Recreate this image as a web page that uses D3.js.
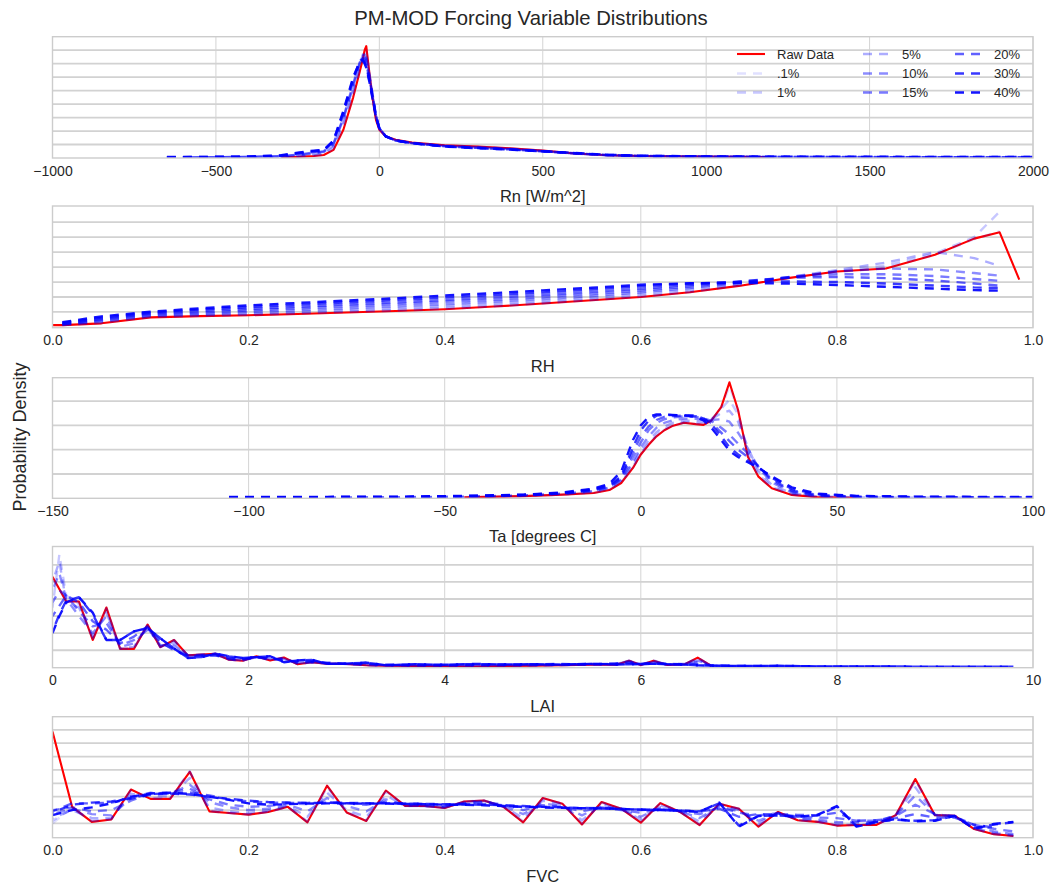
<!DOCTYPE html>
<html>
<head>
<meta charset="utf-8">
<script src="https://cdn.jsdelivr.net/npm/d3@7"></script>
<style>
  body { margin: 0; background: #ffffff; }
  svg { display: block; }
  text { font-family: "Liberation Sans", Arial, sans-serif; fill: #262626; }
</style>
</head>
<body>
<svg id="chart" width="1052" height="890"></svg>
<script>
// ---- Series legend ----
const seriesNames = ["Raw Data", ".1%", "1%", "5%", "10%", "15%", "20%", "30%", "40%"];

// ---- Rn [W/m^2] ----
const rnX = [-650, -580, -500, -400, -300, -250, -200, -170, -140, -110, -80, -60, -50, -45, -40, -30, -20, -10, 0, 20, 50, 100, 200, 300, 400, 500, 600, 700, 800, 1000, 1200, 1500, 1800, 2000];
const rnRaw = [null, null, null, null, 0.00005, 0.00008, 0.00015, 0.00022, 0.0006, 0.0021, 0.0045, 0.0064, 0.0074, 0.008, 0.0083, 0.0062, 0.0043, 0.0028, 0.0021, 0.0016, 0.00135, 0.00115, 0.00095, 0.00085, 0.00072, 0.00055, 0.00033, 0.0002, 0.00015, 0.0001, 0.00007, null, null, null];
const rnP01 = [null, null, null, null, 0.00005, 0.00008, 0.00016, 0.00024, 0.00065, 0.0022, 0.0046, 0.0065, 0.0074, 0.0079, 0.0081, 0.0062, 0.0044, 0.0029, 0.0021, 0.0016, 0.00134, 0.00114, 0.00094, 0.00084, 0.00071, 0.00054, 0.00033, 0.0002, 0.00015, 0.0001, 0.00007, null, null, null];
const rnP1 = [null, null, null, 0.00004, 0.00007, 0.0001, 0.0002, 0.0003, 0.0008, 0.0025, 0.0049, 0.0067, 0.0075, 0.0078, 0.0078, 0.0063, 0.0045, 0.003, 0.0022, 0.0016, 0.00132, 0.00112, 0.00092, 0.00082, 0.0007, 0.00053, 0.00033, 0.0002, 0.00014, 0.0001, 0.00007, 0.00005, null, null];
const rnP5 = [null, null, 0.00004, 0.00006, 0.0001, 0.00015, 0.0003, 0.0004, 0.0009, 0.0027, 0.0051, 0.0069, 0.0077, 0.0078, 0.0076, 0.0062, 0.0046, 0.0031, 0.0022, 0.0016, 0.0013, 0.0011, 0.0009, 0.0008, 0.00068, 0.00052, 0.00033, 0.0002, 0.00014, 0.0001, 0.00007, 0.00005, 0.00004, null];
const rnP10 = [null, 0.00004, 0.00005, 0.00007, 0.00012, 0.0002, 0.00035, 0.00045, 0.001, 0.0029, 0.0053, 0.007, 0.0076, 0.0077, 0.0074, 0.006, 0.0046, 0.0031, 0.0022, 0.0016, 0.0013, 0.0011, 0.0009, 0.00078, 0.00066, 0.0005, 0.00033, 0.0002, 0.00014, 0.0001, 0.00008, 0.00006, 0.00005, 0.00005];
const rnP15 = [null, 0.00005, 0.00006, 0.00008, 0.00014, 0.00025, 0.0004, 0.0005, 0.0011, 0.003, 0.0055, 0.0071, 0.0075, 0.0075, 0.0072, 0.0059, 0.0046, 0.0031, 0.0022, 0.0016, 0.0013, 0.0011, 0.00088, 0.00076, 0.00065, 0.0005, 0.00034, 0.00021, 0.00014, 0.0001, 0.00008, 0.00006, 0.00005, 0.00005];
const rnP20 = [0.00005, 0.00006, 0.00007, 0.00009, 0.00016, 0.0003, 0.00045, 0.00055, 0.0012, 0.0032, 0.0057, 0.0072, 0.0074, 0.0073, 0.007, 0.0058, 0.0045, 0.0031, 0.0022, 0.0016, 0.0013, 0.0011, 0.00087, 0.00075, 0.00064, 0.0005, 0.00035, 0.00022, 0.00015, 0.0001, 0.00008, 0.00007, 0.00006, 0.00006];
const rnP30 = [0.00006, 0.00007, 0.00008, 0.0001, 0.00018, 0.00035, 0.0005, 0.0006, 0.0013, 0.0034, 0.0059, 0.0072, 0.0073, 0.0071, 0.0068, 0.0057, 0.0044, 0.0031, 0.0022, 0.0016, 0.0013, 0.0011, 0.00086, 0.00074, 0.00063, 0.0005, 0.00036, 0.00023, 0.00016, 0.00011, 0.00009, 0.00008, 0.00007, 0.00007];
const rnP40 = [0.00007, 0.00008, 0.00009, 0.00011, 0.0002, 0.0004, 0.00055, 0.0006, 0.0013, 0.0035, 0.006, 0.0071, 0.0072, 0.007, 0.0067, 0.0056, 0.0043, 0.003, 0.0022, 0.0016, 0.0013, 0.0011, 0.00085, 0.00073, 0.00062, 0.0005, 0.00037, 0.00024, 0.00017, 0.00012, 0.0001, 0.00009, 0.00008, 0.00008];
const rnTicks = [-1000, -500, 0, 500, 1000, 1500, 2000];
const rnGrid = [0.001, 0.002, 0.003, 0.004, 0.005, 0.006, 0.007, 0.008];

// ---- RH ----
const rhX = [0.0, 0.01, 0.05, 0.1, 0.15, 0.2, 0.25, 0.3, 0.35, 0.4, 0.45, 0.5, 0.55, 0.6, 0.65, 0.7, 0.75, 0.8, 0.85, 0.9, 0.94, 0.966, 0.986];
const rhRaw = [0.06, 0.06, 0.12, 0.32, 0.36, 0.39, 0.43, 0.48, 0.53, 0.59, 0.68, 0.78, 0.89, 1.0, 1.16, 1.37, 1.63, 1.85, 1.95, 2.41, 2.95, 3.16, 1.58];
const rhP01 = [null, 0.05, 0.13, 0.33, 0.37, 0.40, 0.44, 0.49, 0.54, 0.60, 0.68, 0.78, 0.89, 1.01, 1.16, 1.38, 1.63, 1.84, 1.97, 2.40, 2.93, 3.2, null];
const rhP1 = [null, 0.06, 0.15, 0.34, 0.38, 0.41, 0.46, 0.51, 0.56, 0.63, 0.70, 0.80, 0.91, 1.03, 1.18, 1.40, 1.64, 1.86, 2.05, 2.45, 3.0, 3.85, null];
const rhP5 = [null, 0.07, 0.18, 0.36, 0.40, 0.45, 0.50, 0.56, 0.62, 0.69, 0.77, 0.86, 0.97, 1.10, 1.25, 1.44, 1.66, 1.90, 2.15, 2.5, 2.3, 2.04, null];
const rhP10 = [null, 0.08, 0.21, 0.39, 0.44, 0.50, 0.56, 0.62, 0.69, 0.76, 0.84, 0.93, 1.03, 1.16, 1.30, 1.47, 1.66, 1.85, 1.95, 1.92, 1.80, 1.71, null];
const rhP15 = [null, 0.09, 0.24, 0.42, 0.48, 0.55, 0.62, 0.69, 0.76, 0.84, 0.91, 1.00, 1.10, 1.22, 1.35, 1.50, 1.66, 1.76, 1.76, 1.70, 1.60, 1.54, null];
const rhP20 = [null, 0.11, 0.27, 0.45, 0.53, 0.60, 0.67, 0.75, 0.82, 0.90, 0.98, 1.07, 1.17, 1.28, 1.40, 1.52, 1.64, 1.67, 1.63, 1.55, 1.45, 1.38, null];
const rhP30 = [null, 0.13, 0.31, 0.48, 0.58, 0.66, 0.74, 0.82, 0.90, 0.98, 1.06, 1.15, 1.25, 1.36, 1.45, 1.50, 1.52, 1.50, 1.45, 1.38, 1.32, 1.30, null];
const rhP40 = [null, 0.16, 0.35, 0.51, 0.62, 0.72, 0.80, 0.88, 0.96, 1.05, 1.13, 1.22, 1.31, 1.41, 1.46, 1.47, 1.45, 1.40, 1.34, 1.28, 1.23, 1.21, null];
const rhTicks = [0.0, 0.2, 0.4, 0.6, 0.8, 1.0];
const rhGrid = [0.5, 1.0, 1.5, 2.0, 2.5, 3.0, 3.5];

// ---- Ta [degrees C] ----
const taX = [-105, -80, -60, -45, -30, -20, -12, -8, -5, -2, 0, 2, 4, 6, 8, 11, 14, 16, 18, 20.5, 22.6, 24.8, 27.3, 30, 33.4, 38.5, 45, 55, 70, 85, 100];
const taRaw = [null, null, null, 0.0004, 0.0009, 0.0015, 0.0022, 0.0034, 0.0063, 0.0125, 0.018, 0.022, 0.0255, 0.028, 0.0297, 0.0311, 0.0305, 0.0302, 0.032, 0.0375, 0.0477, 0.0363, 0.0171, 0.0089, 0.0041, 0.0014, 0.0005, 0.0002, null, null, null];
const taP01 = [null, null, null, 0.0005, 0.0009, 0.0015, 0.0023, 0.0036, 0.0066, 0.0128, 0.0182, 0.0222, 0.0257, 0.0282, 0.0298, 0.0311, 0.0306, 0.0303, 0.0322, 0.0372, 0.046, 0.0362, 0.0175, 0.0092, 0.0043, 0.0015, 0.0006, 0.0002, null, null, null];
const taP1 = [null, null, 0.0003, 0.0005, 0.001, 0.0016, 0.0025, 0.0038, 0.0068, 0.013, 0.0185, 0.0225, 0.026, 0.0285, 0.03, 0.0312, 0.031, 0.0308, 0.0325, 0.0368, 0.0405, 0.0345, 0.019, 0.0098, 0.0047, 0.0017, 0.0007, 0.0003, 0.0002, null, null];
const taP5 = [null, 0.0002, 0.0004, 0.0006, 0.0011, 0.0018, 0.0028, 0.0042, 0.0072, 0.014, 0.0195, 0.0238, 0.0272, 0.0295, 0.031, 0.032, 0.0318, 0.0316, 0.0325, 0.035, 0.036, 0.0315, 0.021, 0.0112, 0.0055, 0.002, 0.0008, 0.0004, 0.0002, 0.0002, null];
const taP10 = [null, 0.0003, 0.0005, 0.0007, 0.0012, 0.0019, 0.003, 0.0045, 0.0076, 0.015, 0.021, 0.0255, 0.029, 0.031, 0.032, 0.0328, 0.0327, 0.0325, 0.0322, 0.0325, 0.0315, 0.027, 0.0205, 0.0125, 0.0065, 0.0024, 0.001, 0.0005, 0.0003, 0.0002, 0.0002];
const taP15 = [0.0003, 0.0004, 0.0005, 0.0008, 0.0013, 0.002, 0.0033, 0.0048, 0.008, 0.017, 0.023, 0.028, 0.031, 0.0325, 0.0333, 0.0337, 0.0335, 0.033, 0.0318, 0.029, 0.0262, 0.0225, 0.0185, 0.013, 0.0072, 0.0028, 0.0012, 0.0006, 0.0004, 0.0003, 0.0003];
const taP20 = [0.0004, 0.0004, 0.0005, 0.0008, 0.0013, 0.0021, 0.0035, 0.005, 0.0085, 0.019, 0.0255, 0.0295, 0.0322, 0.0335, 0.0338, 0.034, 0.0338, 0.0328, 0.031, 0.027, 0.0235, 0.02, 0.017, 0.0133, 0.0078, 0.0032, 0.0014, 0.0007, 0.0005, 0.0004, 0.0004];
const taP30 = [0.0005, 0.0005, 0.0006, 0.0009, 0.0014, 0.0022, 0.0037, 0.0055, 0.009, 0.021, 0.028, 0.032, 0.034, 0.0343, 0.0342, 0.0342, 0.034, 0.0328, 0.0305, 0.0255, 0.021, 0.018, 0.0155, 0.0128, 0.0085, 0.0038, 0.0017, 0.0009, 0.0006, 0.0005, 0.0005];
const taP40 = [0.0006, 0.0006, 0.0007, 0.001, 0.0015, 0.0024, 0.004, 0.006, 0.011, 0.024, 0.030, 0.0335, 0.0345, 0.0345, 0.0343, 0.034, 0.0335, 0.032, 0.029, 0.024, 0.0195, 0.017, 0.0148, 0.0125, 0.009, 0.0045, 0.0019, 0.001, 0.0007, 0.0006, 0.0006];
const taTicks = [-150, -100, -50, 0, 50, 100];
const taGrid = [0.01, 0.02, 0.03, 0.04];

// ---- LAI ----
const laiX = [0, 0.07, 0.14, 0.27, 0.41, 0.55, 0.69, 0.83, 0.97, 1.1, 1.24, 1.38, 1.52, 1.66, 1.8, 1.94, 2.08, 2.22, 2.36, 2.5, 2.64, 2.8, 3.0, 3.2, 3.4, 3.7, 4.0, 4.3, 4.6, 4.9, 5.2, 5.5, 5.75, 5.88, 6.0, 6.13, 6.27, 6.45, 6.58, 6.72, 7.0, 7.4, 7.8, 8.2, 8.6, 9.0, 9.4, 9.8];
const laiRaw = [0.53, null, 0.385, 0.385, 0.16, 0.35, 0.108, 0.108, 0.25, 0.118, 0.16, 0.07, 0.075, 0.08, 0.045, 0.039, 0.065, 0.04, 0.058, 0.018, 0.03, 0.022, 0.02, 0.012, 0.01, 0.008, 0.006, 0.004, 0.008, 0.01, 0.013, 0.016, 0.015, 0.039, 0.014, 0.039, 0.014, 0.018, 0.057, 0.008, null, null, null, null, null, null, null, null];
const laiP01 = [0.52, 0.45, 0.39, 0.385, 0.16, 0.35, 0.108, 0.108, 0.25, 0.118, 0.16, 0.07, 0.075, 0.08, 0.045, 0.039, 0.065, 0.04, 0.058, 0.018, 0.03, 0.022, 0.02, 0.012, 0.01, 0.008, 0.006, 0.004, 0.008, 0.01, 0.013, 0.016, 0.015, 0.039, 0.014, 0.039, 0.014, 0.018, 0.057, 0.008, null, null, null, null, null, null, null, null];
const laiP1 = [0.35, 0.66, 0.42, 0.37, 0.17, 0.34, 0.11, 0.11, 0.25, 0.12, 0.16, 0.07, 0.075, 0.08, 0.045, 0.039, 0.065, 0.041, 0.057, 0.019, 0.03, 0.022, 0.02, 0.012, 0.01, 0.008, 0.006, 0.005, 0.008, 0.01, 0.013, 0.016, 0.016, 0.04, 0.015, 0.04, 0.015, 0.018, 0.055, 0.008, null, null, null, null, null, null, null, null];
const laiP5 = [0.5, 0.62, 0.38, 0.35, 0.18, 0.32, 0.11, 0.12, 0.24, 0.12, 0.15, 0.07, 0.074, 0.078, 0.046, 0.04, 0.063, 0.044, 0.055, 0.02, 0.03, 0.022, 0.02, 0.013, 0.011, 0.009, 0.008, 0.007, 0.01, 0.012, 0.014, 0.018, 0.018, 0.037, 0.016, 0.036, 0.016, 0.018, 0.05, 0.009, 0.005, null, null, null, null, null, null, null];
const laiP10 = [0.45, 0.55, 0.4, 0.3, 0.2, 0.3, 0.12, 0.14, 0.23, 0.13, 0.13, 0.07, 0.07, 0.075, 0.048, 0.042, 0.06, 0.048, 0.05, 0.025, 0.03, 0.024, 0.02, 0.016, 0.012, 0.01, 0.01, 0.01, 0.012, 0.014, 0.016, 0.02, 0.02, 0.034, 0.018, 0.032, 0.018, 0.02, 0.04, 0.01, 0.006, 0.005, null, null, null, null, null, null];
const laiP15 = [0.38, 0.45, 0.42, 0.33, 0.24, 0.26, 0.13, 0.16, 0.22, 0.14, 0.11, 0.07, 0.068, 0.07, 0.05, 0.045, 0.058, 0.05, 0.045, 0.03, 0.033, 0.025, 0.02, 0.02, 0.014, 0.012, 0.012, 0.014, 0.015, 0.016, 0.018, 0.02, 0.024, 0.03, 0.02, 0.028, 0.02, 0.018, 0.03, 0.012, 0.008, 0.006, 0.005, null, null, null, null, null];
const laiP20 = [0.3, 0.36, 0.42, 0.38, 0.27, 0.22, 0.14, 0.18, 0.24, 0.15, 0.1, 0.065, 0.07, 0.07, 0.055, 0.05, 0.06, 0.055, 0.04, 0.035, 0.035, 0.028, 0.02, 0.022, 0.016, 0.015, 0.014, 0.016, 0.017, 0.018, 0.02, 0.017, 0.022, 0.024, 0.018, 0.022, 0.02, 0.016, 0.02, 0.01, 0.008, 0.008, 0.006, 0.006, 0.005, null, null, null];
const laiP30 = [0.21, 0.31, 0.39, 0.41, 0.31, 0.16, 0.16, 0.21, 0.23, 0.17, 0.11, 0.056, 0.06, 0.08, 0.064, 0.055, 0.06, 0.064, 0.031, 0.04, 0.044, 0.021, 0.022, 0.027, 0.013, 0.018, 0.015, 0.019, 0.017, 0.018, 0.016, 0.02, 0.017, 0.018, 0.02, 0.021, 0.018, 0.016, 0.012, 0.01, 0.008, 0.009, 0.006, 0.006, 0.005, 0.004, 0.004, 0.004];
const laiP40 = [0.2, 0.3, 0.38, 0.41, 0.32, 0.16, 0.16, 0.21, 0.23, 0.17, 0.11, 0.055, 0.06, 0.08, 0.065, 0.055, 0.06, 0.065, 0.03, 0.04, 0.045, 0.02, 0.022, 0.028, 0.012, 0.018, 0.015, 0.02, 0.017, 0.018, 0.016, 0.02, 0.017, 0.018, 0.02, 0.022, 0.018, 0.016, 0.012, 0.01, 0.008, 0.009, 0.006, 0.006, 0.005, 0.004, 0.004, 0.004];
const laiTicks = [0, 2, 4, 6, 8, 10];
const laiGrid = [0.1, 0.2, 0.3, 0.4, 0.5, 0.6];

// ---- FVC ----
const fvcX = [0.00, 0.02, 0.04, 0.06, 0.08, 0.10, 0.12, 0.14, 0.16, 0.18, 0.20, 0.22, 0.24, 0.26, 0.28, 0.30, 0.32, 0.34, 0.36, 0.38, 0.40, 0.42, 0.44, 0.46, 0.48, 0.50, 0.52, 0.54, 0.56, 0.58, 0.60, 0.62, 0.64, 0.66, 0.68, 0.70, 0.72, 0.74, 0.76, 0.78, 0.80, 0.82, 0.84, 0.86, 0.88, 0.90, 0.92, 0.94, 0.96, 0.98];
const fvcRaw = [3.94, 1.12, 0.56, 0.65, 1.77, 1.42, 1.42, 2.43, 0.95, 0.89, 0.83, 0.93, 1.12, 0.54, 1.91, 0.91, 0.59, 1.73, 1.15, 1.15, 1.08, 1.32, 1.36, 1.12, 0.54, 1.45, 1.24, 0.46, 1.3, 1.05, 0.53, 1.26, 0.93, 0.44, 1.24, 1.05, 0.38, 0.93, 0.62, 0.56, 0.42, 0.44, 0.44, 0.81, 2.16, 0.81, 0.79, 0.29, 0.1, 0.03];
const fvcP01 = [0.5, 1.1, 0.58, 0.65, 1.76, 1.42, 1.43, 2.43, 0.95, 0.89, 0.83, 0.93, 1.12, 0.54, 1.9, 0.91, 0.6, 1.73, 1.15, 1.15, 1.08, 1.32, 1.36, 1.12, 0.55, 1.45, 1.24, 0.47, 1.3, 1.05, 0.54, 1.26, 0.93, 0.45, 1.24, 1.05, 0.39, 0.93, 0.62, 0.56, 0.42, 0.44, 0.44, 0.81, 2.15, 0.81, 0.79, 0.29, 0.1, 0.03];
const fvcP1 = [0.6, 1.05, 0.6, 0.66, 1.72, 1.45, 1.45, 2.45, 0.98, 0.9, 0.84, 0.94, 1.12, 0.58, 1.85, 0.93, 0.62, 1.7, 1.15, 1.15, 1.08, 1.32, 1.36, 1.12, 0.58, 1.42, 1.24, 0.5, 1.28, 1.05, 0.56, 1.25, 0.93, 0.47, 1.23, 1.05, 0.42, 0.92, 0.62, 0.57, 0.44, 0.46, 0.46, 0.8, 2.1, 0.81, 0.79, 0.3, 0.11, 0.04];
const fvcP5 = [0.7, 1.0, 0.7, 0.7, 1.6, 1.55, 1.5, 2.2, 1.1, 0.95, 0.9, 0.98, 1.15, 0.75, 1.65, 1.0, 0.75, 1.55, 1.16, 1.15, 1.1, 1.3, 1.35, 1.13, 0.7, 1.35, 1.2, 0.62, 1.22, 1.04, 0.65, 1.18, 0.94, 0.57, 1.2, 1.0, 0.5, 0.9, 0.66, 0.6, 0.48, 0.5, 0.5, 0.8, 1.85, 0.82, 0.78, 0.33, 0.15, 0.06];
const fvcP10 = [0.85, 1.05, 0.85, 0.8, 1.45, 1.65, 1.6, 1.95, 1.3, 1.1, 1.0, 1.05, 1.2, 0.95, 1.45, 1.15, 0.95, 1.4, 1.18, 1.15, 1.1, 1.28, 1.33, 1.15, 0.85, 1.25, 1.15, 0.8, 1.15, 1.02, 0.75, 1.1, 0.95, 0.7, 1.15, 0.95, 0.6, 0.88, 0.7, 0.65, 0.55, 0.55, 0.55, 0.8, 1.55, 0.82, 0.78, 0.38, 0.2, 0.1];
const fvcP15 = [1.0, 1.1, 0.95, 1.0, 1.35, 1.62, 1.65, 1.8, 1.4, 1.2, 1.12, 1.15, 1.25, 1.22, 1.3, 1.25, 1.2, 1.3, 1.22, 1.2, 1.15, 1.25, 1.3, 1.2, 1.0, 1.18, 1.12, 0.95, 1.1, 1.0, 0.9, 1.05, 0.95, 0.85, 1.1, 0.9, 0.8, 0.88, 0.75, 0.72, 0.7, 0.6, 0.6, 0.78, 1.2, 0.85, 0.75, 0.45, 0.3, 0.2];
const fvcP20 = [0.95, 1.25, 1.25, 1.28, 1.42, 1.58, 1.62, 1.66, 1.55, 1.4, 1.32, 1.28, 1.27, 1.27, 1.28, 1.27, 1.26, 1.26, 1.25, 1.22, 1.2, 1.22, 1.23, 1.18, 1.12, 1.12, 1.1, 1.06, 1.08, 1.05, 1.0, 1.02, 0.98, 0.95, 1.05, 0.75, 0.85, 0.85, 0.82, 0.8, 0.9, 0.6, 0.62, 0.7, 0.85, 0.72, 0.72, 0.45, 0.35, null];
const fvcP30 = [0.9, 1.2, 1.28, 1.32, 1.45, 1.6, 1.62, 1.58, 1.5, 1.42, 1.35, 1.3, 1.28, 1.27, 1.27, 1.26, 1.25, 1.25, 1.24, 1.23, 1.22, 1.21, 1.2, 1.18, 1.15, 1.12, 1.1, 1.08, 1.06, 1.04, 1.02, 1.0, 0.98, 0.95, 1.25, 0.42, 0.78, 0.8, 0.76, 0.8, 1.12, 0.4, 0.56, 0.64, 0.6, 0.62, 0.78, 0.32, 0.46, 0.54];
const fvcP40 = [0.81, 1.0, 1.1, 1.25, 1.5, 1.62, 1.65, 1.6, 1.5, 1.38, 1.25, 1.2, 1.22, 1.24, 1.25, 1.25, 1.24, 1.24, 1.23, 1.22, 1.2, 1.2, 1.18, 1.15, 1.12, 1.1, 1.08, 1.07, 1.06, 1.04, 1.02, 1.0, 0.98, 0.93, 1.28, 0.38, 0.78, 0.8, 0.75, 0.82, 1.15, 0.38, 0.55, 0.66, 0.58, 0.6, 0.78, 0.3, 0.48, 0.56];
const fvcTicks = [0.0, 0.2, 0.4, 0.6, 0.8, 1.0];
const fvcGrid = [0.5, 1.0, 1.5, 2.0, 2.5, 3.0, 3.5, 4.0];

// ---- Styling of the noise levels (blue, growing opacity) ----
const noiseOpacity = [0.12, 0.22, 0.32, 0.45, 0.52, 0.62, 0.78, 0.92];
const alignedDash = [0, 0, 0, 0, 0, 0, 0, 0, 0];      // dashes in phase: overlapping tails stay dashed
const staggeredDash = [0, 0, 4, 8, 12, 2, 4, 8, 0];   // dashes interleave where the curves coincide
const RED = "#ff0000", BLUE = "#0000ff";
const DASH = "9,7";
const fmtInt = d => String(d).replace("-", "\u2212");

// Panel table built from the arrays above
const panels = [
  { label: "Rn [W/m^2]", x: rnX, series: [rnRaw, rnP01, rnP1, rnP5, rnP10, rnP15, rnP20, rnP30, rnP40],
    xDomain: [-1000, 2000], ticks: rnTicks, fmt: fmtInt, yDomain: [0, 0.009], grid: rnGrid, top: 36.7, bottom: 158, dash: alignedDash },
  { label: "RH", x: rhX, series: [rhRaw, rhP01, rhP1, rhP5, rhP10, rhP15, rhP20, rhP30, rhP40],
    xDomain: [0, 1], ticks: rhTicks, fmt: d => d.toFixed(1), yDomain: [-0.026, 4.04], grid: rhGrid, top: 206, bottom: 327.7, dash: alignedDash },
  { label: "Ta [degrees C]", x: taX, series: [taRaw, taP01, taP1, taP5, taP10, taP15, taP20, taP30, taP40],
    xDomain: [-150, 100], ticks: taTicks, fmt: fmtInt, yDomain: [0, 0.0496], grid: taGrid, top: 377.7, bottom: 498.3, dash: alignedDash },
  { label: "LAI", x: laiX, series: [laiRaw, laiP01, laiP1, laiP5, laiP10, laiP15, laiP20, laiP30, laiP40],
    xDomain: [0, 10], ticks: laiTicks, fmt: fmtInt, yDomain: [-0.002, 0.707], grid: laiGrid, top: 546.5, bottom: 667.7, dash: staggeredDash },
  { label: "FVC", x: fvcX, series: [fvcRaw, fvcP01, fvcP1, fvcP5, fvcP10, fvcP15, fvcP20, fvcP30, fvcP40],
    xDomain: [0, 1], ticks: fvcTicks, fmt: d => d.toFixed(1), yDomain: [-0.033, 4.49], grid: fvcGrid, top: 716.7, bottom: 837.7, dash: staggeredDash }
];

const svg = d3.select("#chart");
const LEFT = 52.5, RIGHT = 1033;

// Figure title
svg.append("text")
  .attr("x", 531).attr("y", 25)
  .attr("text-anchor", "middle")
  .style("font-size", "20.3px")
  .text("PM-MOD Forcing Variable Distributions");

// Shared y label
svg.append("text")
  .attr("transform", "translate(26,437) rotate(-90)")
  .attr("text-anchor", "middle")
  .style("font-size", "18px")
  .text("Probability Density");

panels.forEach((p, pi) => {
  const x = d3.scaleLinear().domain(p.xDomain).range([LEFT, RIGHT]);
  const y = d3.scaleLinear().domain(p.yDomain).range([p.bottom, p.top]);
  const g = svg.append("g");

  // axes background and clip
  const clipId = "clip" + pi;
  svg.append("clipPath").attr("id", clipId)
    .append("rect").attr("x", LEFT).attr("y", p.top)
    .attr("width", RIGHT - LEFT).attr("height", p.bottom - p.top);

  g.append("rect")
    .attr("x", LEFT).attr("y", p.top)
    .attr("width", RIGHT - LEFT).attr("height", p.bottom - p.top)
    .attr("fill", "#ffffff");

  // vertical grid lines at x ticks
  g.selectAll(".vgrid").data(p.ticks).join("line")
    .attr("x1", d => x(d)).attr("x2", d => x(d))
    .attr("y1", p.top).attr("y2", p.bottom)
    .attr("stroke", "#d4d4d4").attr("stroke-width", 1);

  // horizontal grid lines (no y tick labels)
  g.selectAll(".hgrid").data(p.grid).join("line")
    .attr("x1", LEFT).attr("x2", RIGHT)
    .attr("y1", d => y(d)).attr("y2", d => y(d))
    .attr("stroke", "#d2d2d2").attr("stroke-width", 1.8);

  // x tick labels through a d3 axis without lines
  const axis = d3.axisBottom(x).tickValues(p.ticks).tickFormat(p.fmt).tickSize(0).tickPadding(0);
  const ax = g.append("g").attr("transform", `translate(0,${p.bottom + 17.5})`).call(axis);
  ax.select(".domain").remove();
  ax.selectAll("text")
    .attr("dy", 0)
    .style("font-size", "14px")
    .style("font-family", '"Liberation Sans", Arial, sans-serif')
    .attr("fill", "#262626");

  // x label
  g.append("text")
    .attr("x", x((p.xDomain[0] + p.xDomain[1]) / 2))
    .attr("y", p.bottom + 44)
    .attr("text-anchor", "middle")
    .style("font-size", "16.5px")
    .text(p.label);

  // curves
  const line = d3.line().x(d => x(d[0])).y(d => y(d[1]));
  const plot = g.append("g").attr("clip-path", `url(#${clipId})`);
  p.series.forEach((vals, si) => {
    const pts = p.x.map((v, i) => [v, vals[i]]).filter(d => d[1] !== null);
    const path = plot.append("path")
      .attr("d", line(pts))
      .attr("fill", "none")
      .attr("stroke-linejoin", "round");
    if (si === 0) {
      path.attr("stroke", RED).attr("stroke-width", 2.1);
    } else {
      path.attr("stroke", BLUE)
        .attr("stroke-opacity", noiseOpacity[si - 1])
        .attr("stroke-width", 2.4)
        .attr("stroke-dasharray", DASH)
        .attr("stroke-dashoffset", p.dash[si]);
    }
  });

  // frame
  g.append("rect")
    .attr("x", LEFT).attr("y", p.top)
    .attr("width", RIGHT - LEFT).attr("height", p.bottom - p.top)
    .attr("fill", "none").attr("stroke", "#cccccc").attr("stroke-width", 1.4);

  // legend inside the first panel
  if (pi === 0) {
    const colHandle = [737, 863, 955];
    const colText = [777, 902, 994];
    const rowY = [54, 73.5, 92.5];
    seriesNames.forEach((name, i) => {
      const c = Math.floor(i / 3), r = i % 3;
      const lg = g.append("g");
      const hl = lg.append("line")
        .attr("x1", colHandle[c]).attr("x2", colHandle[c] + 28)
        .attr("y1", rowY[r]).attr("y2", rowY[r]);
      if (i === 0) {
        hl.attr("stroke", RED).attr("stroke-width", 2.1);
      } else {
        hl.attr("stroke", BLUE).attr("stroke-width", 2.4)
          .attr("stroke-opacity", noiseOpacity[i - 1])
          .attr("stroke-dasharray", DASH);
      }
      lg.append("text")
        .attr("x", colText[c]).attr("y", rowY[r] + 4.5)
        .style("font-size", "13px")
        .text(name);
    });
  }
});
</script>
</body>
</html>
